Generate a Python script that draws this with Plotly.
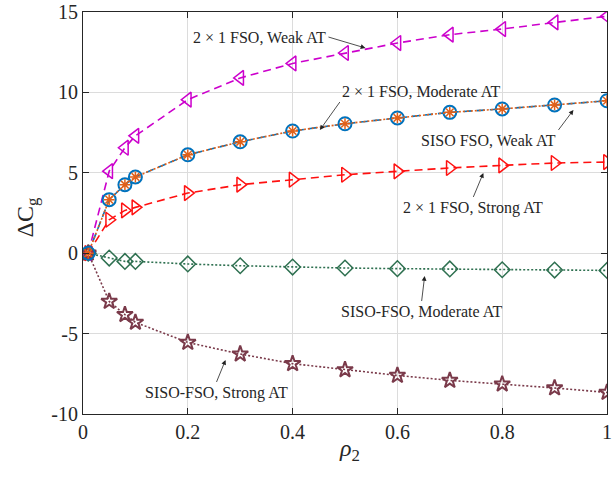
import plotly.graph_objects as go

rho2 = [0.01, 0.05, 0.08, 0.1, 0.2, 0.3, 0.4, 0.5, 0.6, 0.7, 0.8, 0.9, 1.0]

mimo_weak = [0.0, 5.1, 6.56, 7.3, 9.55, 10.9, 11.8, 12.45, 13.07, 13.59, 13.94, 14.35, 14.73]
siso_weak = [0.0, 3.33, 4.26, 4.74, 6.12, 6.93, 7.6, 8.05, 8.41, 8.76, 8.97, 9.22, 9.48]
mimo_moderate = [0.0, 3.33, 4.26, 4.74, 6.12, 6.93, 7.6, 8.05, 8.41, 8.76, 8.97, 9.22, 9.48]
mimo_strong = [0.0, 2.08, 2.66, 2.85, 3.74, 4.26, 4.57, 4.88, 5.09, 5.3, 5.46, 5.61, 5.67]
siso_moderate = [0.0, -0.3, -0.51, -0.51, -0.67, -0.78, -0.86, -0.92, -0.96, -0.98, -1.03, -1.05, -1.07]
siso_strong = [0.0, -3.0, -3.82, -4.3, -5.55, -6.27, -6.87, -7.25, -7.6, -7.91, -8.14, -8.38, -8.66]

x_ticks = [0, 0.2, 0.4, 0.6, 0.8, 1.0]
x_tick_text = ["0", "0.2", "0.4", "0.6", "0.8", "1"]
y_ticks = [-10, -5, 0, 5, 10, 15]
y_tick_text = ["-10", "-5", "0", "5", "10", "15"]

FONT = "Liberation Serif"
TXT = "#262626"

fig = go.Figure()

def add(y, color, dash, symbol, size, mwidth=1.5, lwidth=1.6):
    fig.add_trace(go.Scatter(
        x=rho2, y=y, mode="lines+markers",
        line=dict(color=color, dash=dash, width=lwidth),
        marker=dict(symbol=symbol, size=size, color=color, line=dict(color=color, width=mwidth)),
        showlegend=False,
    ))

DASH = "8px,5px"
DOT = "2px,2px"
add(mimo_weak, "#CC00CC", DASH, "triangle-left-open", 13)
add(mimo_strong, "#FF1010", DASH, "triangle-right-open", 13)
add(siso_moderate, "#2E7050", DOT, "diamond-open", 12)
add(siso_strong, "#7A3A4A", DOT, "star-open", 12, mwidth=2)
add(siso_weak, "#0072BD", DASH, "circle-open", 13, mwidth=2)
add(mimo_moderate, "#E0601A", DOT, "asterisk-open", 9, mwidth=1.5)

# text, arrow head (data), tail offset (px), text anchors
labels = [
    ("2 × 1 FSO, Weak AT", 0.539, 12.76, -37, -11, "right", "middle"),
    ("2 × 1 FSO, Moderate AT", 0.452, 7.66, 20, -28, "left", "bottom"),
    ("SISO FSO, Weak AT", 0.936, 8.91, -15, 20, "right", "top"),
    ("2 × 1 FSO, Strong AT", 0.764, 4.99, -10, 24, "center", "top"),
    ("SISO-FSO, Moderate AT", 0.652, -1.42, -3, 25, "center", "top"),
    ("SISO-FSO, Strong AT", 0.272, -6.64, -9, 22, "center", "top"),
]
for text, hx, hy, ax, ay, xa, ya in labels:
    fig.add_annotation(x=hx, y=hy, text=text, showarrow=True, ax=ax, ay=ay,
                       xanchor=xa, yanchor=ya,
                       font=dict(family=FONT, size=16, color=TXT),
                       arrowhead=2, arrowsize=1.2, arrowwidth=0.8, arrowcolor="#222")

fig.add_annotation(x=-0.106, y=0.49, xref="paper", yref="paper", text="ΔC<sub>g</sub>",
                   xanchor="center", yanchor="middle",
                   textangle=-90, showarrow=False, font=dict(family=FONT, size=24, color=TXT))
fig.add_annotation(x=0.508, y=-0.09, xref="paper", yref="paper", text="<i>ρ</i><sub>2</sub>",
                   xanchor="center", yanchor="middle",
                   showarrow=False, font=dict(family=FONT, size=24, color=TXT))

axis_common = dict(
    showgrid=True, gridcolor="#DCDCDC", gridwidth=1,
    showline=True, linecolor=TXT, linewidth=1.2, mirror="ticks",
    ticks="inside", ticklen=6, tickcolor=TXT,
    tickfont=dict(family=FONT, size=20, color=TXT),
    ticklabeloverflow="allow",
    zeroline=False,
)
fig.update_xaxes(range=[0, 1], tickvals=x_ticks, ticktext=x_tick_text, **axis_common)
fig.update_yaxes(range=[-10, 15], tickvals=y_ticks, ticktext=y_tick_text, **axis_common)

fig.update_layout(
    width=612, height=480,
    margin=dict(l=83, r=0, t=12, b=66),
    paper_bgcolor="white", plot_bgcolor="white",
    font=dict(family=FONT),
)

fig.write_html("out.html",
               config={"displayModeBar": False},
               post_script="document.body.style.margin='0';document.body.style.overflow='hidden';")
